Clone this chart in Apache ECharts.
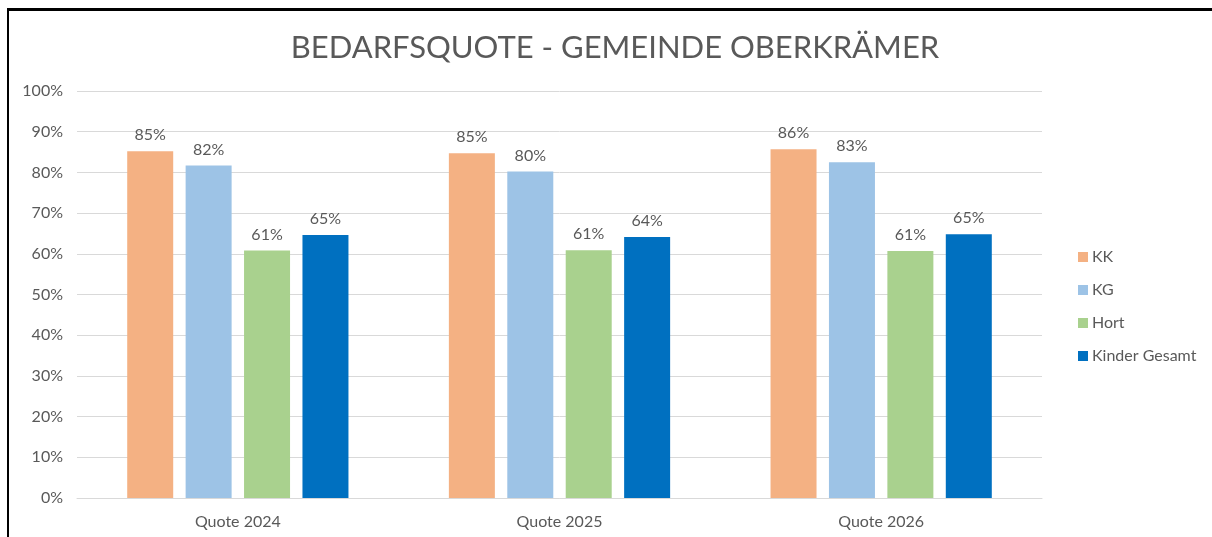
<!DOCTYPE html>
<html>
<head>
<meta charset="utf-8">
<script src="https://cdn.jsdelivr.net/npm/echarts@6/dist/echarts.min.js"></script>
<style>
  html, body { margin: 0; padding: 0; background: #fff; }
  .frame {
    position: absolute; left: 7px; top: 8px; width: 1205px; height: 529px;
    border-left: 2px solid #000; border-top: 3px solid #000; box-sizing: border-box;
  }
  #chart { position: absolute; left: 0; top: 0; width: 1212px; height: 537px; }
</style>
</head>
<body>
<div id="chart"></div>
<div class="frame"></div>
<script>
// Kategorien und Werte (in Prozent)
const categories = ['Quote 2024', 'Quote 2025', 'Quote 2026']
const seriesNames = ['KK', 'KG', 'Hort', 'Kinder Gesamt']
const kkValues = [85.2, 84.7, 85.7]
const kgValues = [81.7, 80.2, 82.5]
const hortValues = [60.8, 60.9, 60.7]
const gesamtValues = [64.6, 64.1, 64.8]
const colors = ['#F4B183', '#9DC3E6', '#A9D18E', '#0070C0']

const textColor = '#595959'
const font = 'Lato'

const chart = echarts.init(document.getElementById('chart'))
const allValues = [kkValues, kgValues, hortValues, gesamtValues]

const seriesArr = seriesNames.map((name, i) => {
  return {
    name: name,
    type: 'bar',
    data: allValues[i],
    barWidth: 46,
    barGap: '27%',
    itemStyle: { color: colors[i] },
    label: {
      show: true,
      position: 'top',
      distance: 8,
      color: textColor,
      fontFamily: font,
      fontSize: 16,
      formatter: p => Math.round(p.value) + '%'
    }
  }
})

chart.setOption({
  animation: false,
  title: {
    text: 'BEDARFSQUOTE - GEMEINDE OBERKRÄMER',
    left: 610,
    textAlign: 'center',
    top: 27,
    textStyle: { color: textColor, fontFamily: font, fontSize: 31, fontWeight: 'normal' }
  },
  legend: {
    orient: 'vertical',
    left: 1073,
    top: 244,
    itemWidth: 10,
    itemHeight: 10,
    itemGap: 17,
    icon: 'rect',
    data: seriesNames,
    textStyle: { color: textColor, fontFamily: font, fontSize: 16, lineHeight: 16, padding: [0, 0, 0, -1] }
  },
  grid: { left: 77, right: 170, top: 91, bottom: 39 },
  xAxis: {
    type: 'category',
    data: categories,
    axisLine: { lineStyle: { color: '#d9d9d9' } },
    axisTick: { show: false },
    axisLabel: { color: textColor, fontFamily: font, fontSize: 16, margin: 16 }
  },
  yAxis: {
    type: 'value',
    min: 0,
    max: 100,
    interval: 10,
    axisLabel: { color: textColor, fontFamily: font, fontSize: 16, margin: 14, formatter: '{value}%' },
    splitLine: { lineStyle: { color: '#d9d9d9', width: 1 } }
  },
  series: seriesArr
})
</script>
</body>
</html>
